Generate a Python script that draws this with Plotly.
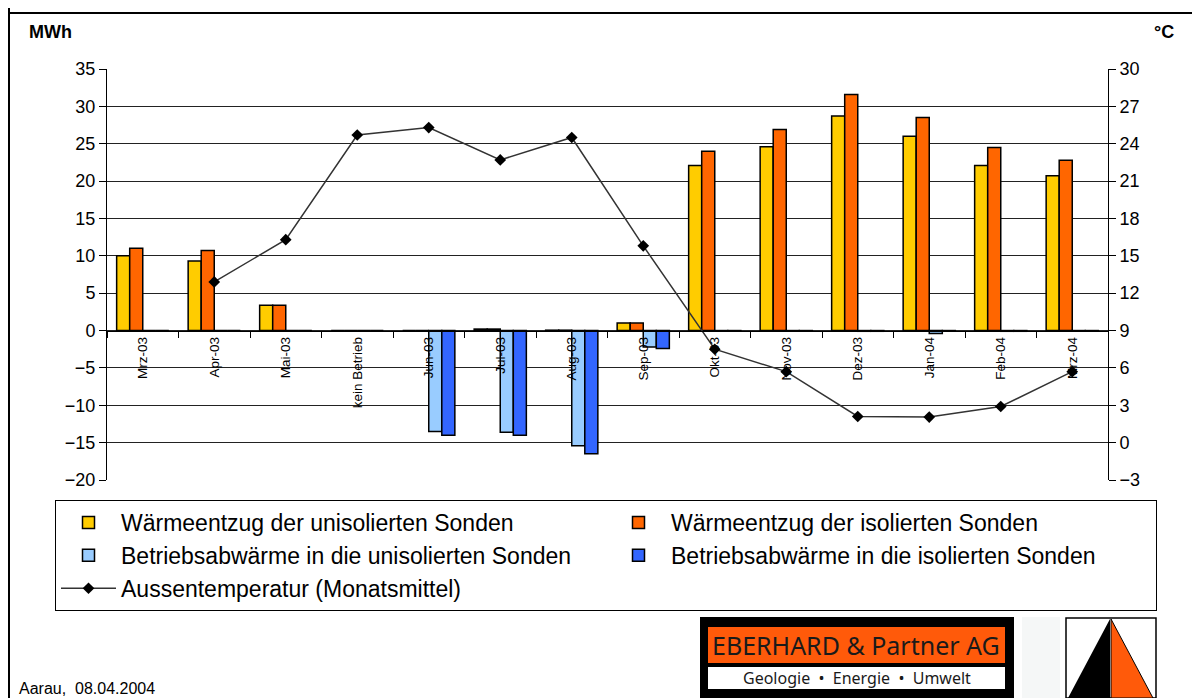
import plotly.graph_objects as go

categories = ["Mrz-03", "Apr-03", "Mai-03", "kein Betrieb", "Jun-03", "Jul-03", "Aug-03",
              "Sep-03", "Okt-03", "Nov-03", "Dez-03", "Jan-04", "Feb-04", "Mrz-04"]
entzug_unisoliert = [10.0, 9.3, 3.4, 0, 0, 0.2, 0.05, 1.0, 22.1, 24.6, 28.7, 26.0, 22.1, 20.7]
entzug_isoliert = [11.0, 10.7, 3.4, 0, 0, 0.2, 0.05, 1.0, 24.0, 26.9, 31.6, 28.5, 24.5, 22.8]
abwaerme_unisoliert = [0, 0, 0, 0, -13.5, -13.6, -15.4, -2.2, -0.05, -0.05, -0.1, -0.4, -0.1, -0.05]
abwaerme_isoliert = [0, 0, 0, 0, -14.0, -14.0, -16.5, -2.4, -0.05, -0.05, -0.1, -0.05, -0.1, -0.05]
temperatur = [None, 12.9, 16.3, 24.7, 25.3, 22.7, 24.5, 15.8, 7.5, 5.7, 2.1, 2.05, 2.9, 5.7]

left_ticks = list(range(-20, 40, 5))
right_ticks = list(range(-3, 33, 3))

names = ["Wärmeentzug der unisolierten Sonden", "Wärmeentzug der isolierten Sonden",
         "Betriebsabwärme in die unisolierten Sonden", "Betriebsabwärme in die isolierten Sonden"]
colors = ["#FFCC00", "#FF6600", "#99CCFF", "#3366FF"]
series = [entzug_unisoliert, entzug_isoliert, abwaerme_unisoliert, abwaerme_isoliert]

# page has an 8px body margin: figure pixel = page pixel - 8
O = 8
W, H = 1200 - O, 698 - O
L, R, T, B = 107 - O, 92, 69 - O, 218
PW, PH = W - L - R, H - T - B

def px(x):
    return (x - O - L) / PW

def py(y):
    return (H - B - (y - O)) / PH

FONT = "Liberation Sans, Arial, sans-serif"

fig = go.Figure()
for n, c, s in zip(names, colors, series):
    fig.add_trace(go.Bar(x=categories, y=s, name=n, marker=dict(color=c, line=dict(color="black", width=1.5)),
                         yaxis="y"))
fig.add_trace(go.Scatter(x=categories, y=temperatur, name="Aussentemperatur (Monatsmittel)", yaxis="y2",
                         mode="lines+markers", line=dict(color="#333333", width=1.5),
                         marker=dict(symbol="diamond", size=9, color="black")))

ymin, ymax = left_ticks[0], left_ticks[-1]
zero_pos = (0 - ymin) / (ymax - ymin)

shapes = []
# outer frame
shapes.append(dict(type="line", xref="paper", yref="paper", x0=px(9), x1=px(9), y0=py(8), y1=py(698),
                   line=dict(color="black", width=2)))
shapes.append(dict(type="line", xref="paper", yref="paper", x0=px(9), x1=px(1200), y0=py(13), y1=py(13),
                   line=dict(color="black", width=2)))
shapes.append(dict(type="line", xref="paper", yref="paper", x0=px(1198), x1=px(1198), y0=py(8), y1=py(698),
                   line=dict(color="black", width=1)))
# logo 1
shapes.append(dict(type="rect", xref="paper", yref="paper", x0=px(700), x1=px(1014), y0=py(617), y1=py(698),
                   fillcolor="black", line=dict(width=0)))
shapes.append(dict(type="rect", xref="paper", yref="paper", x0=px(708), x1=px(1005), y0=py(627), y1=py(663),
                   fillcolor="#FF5A0A", line=dict(width=0)))
shapes.append(dict(type="rect", xref="paper", yref="paper", x0=px(708), x1=px(1005), y0=py(667), y1=py(689),
                   fillcolor="white", line=dict(width=0)))
# faint area
shapes.append(dict(type="rect", xref="paper", yref="paper", x0=px(1022), x1=px(1060), y0=py(617), y1=py(698),
                   fillcolor="#F5F7F7", line=dict(width=0)))
# logo 2
shapes.append(dict(type="rect", xref="paper", yref="paper", x0=px(1066), x1=px(1156), y0=py(618), y1=py(698),
                   fillcolor="white", line=dict(color="black", width=1.5)))
def path(pts):
    return "M " + " L ".join(f"{px(a)},{py(b)}" for a, b in pts) + " Z"
shapes.append(dict(type="path", xref="paper", yref="paper", path=path([(1110, 619), (1068, 698), (1110, 698)]),
                   fillcolor="black", line=dict(width=0)))
shapes.append(dict(type="path", xref="paper", yref="paper", path=path([(1111, 619), (1111, 698), (1153, 698)]),
                   fillcolor="#FF5A0A", line=dict(color="black", width=1)))

annotations = [
    dict(text="<b>MWh</b>", x=px(27), y=py(32), xref="paper", yref="paper", xanchor="left", yanchor="middle",
         showarrow=False, font=dict(family=FONT, size=18, color="black")),
    dict(text="<b>°C</b>", x=px(1176), y=py(32), xref="paper", yref="paper", xanchor="right", yanchor="middle",
         showarrow=False, font=dict(family=FONT, size=18, color="black")),
    dict(text="Aarau,\u00a0 08.04.2004", x=px(17), y=py(688), xref="paper", yref="paper", xanchor="left",
         yanchor="middle", showarrow=False, font=dict(family=FONT, size=16, color="black")),
    dict(text="EBERHARD & Partner AG", x=px(856), y=py(645), xref="paper", yref="paper", xanchor="center",
         yanchor="middle", showarrow=False, font=dict(family="Noto Sans", size=25, color="#1a1a1a")),
    dict(text="Geologie  •  Energie  •  Umwelt", x=px(857), y=py(678), xref="paper", yref="paper",
         xanchor="center", yanchor="middle", showarrow=False,
         font=dict(family="Noto Sans", size=16, color="#1a1a1a")),
]

fig.update_layout(
    width=W, height=H,
    margin=dict(l=L, r=R, t=T, b=B, autoexpand=False),
    paper_bgcolor="white", plot_bgcolor="white",
    barmode="group", bargap=0.27, bargroupgap=0,
    font=dict(family=FONT, color="black"),
    xaxis=dict(type="category", anchor="free", position=zero_pos, showline=True, linecolor="black",
               linewidth=1, ticks="outside", tickson="boundaries", ticklen=6, tickcolor="black",
               tickangle=-90, tickfont=dict(size=13.5, family=FONT), showgrid=False, range=[-0.5, 13.5]),
    yaxis=dict(range=[ymin, ymax], tickvals=left_ticks, showline=True, linecolor="black", linewidth=1,
               ticks="outside", ticklen=7, tickcolor="black", showgrid=True, gridcolor="#222222",
               gridwidth=1, zeroline=False, tickfont=dict(size=18, family=FONT)),
    yaxis2=dict(range=[right_ticks[0], right_ticks[-1]], tickvals=right_ticks, overlaying="y", side="right",
                showline=True, linecolor="black", linewidth=1, ticks="outside", ticklen=7,
                tickcolor="black", showgrid=False, zeroline=False, tickfont=dict(size=18, family=FONT)),
    legend=dict(orientation="h", x=px(55), y=py(500), xanchor="left", yanchor="top",
                entrywidth=480, entrywidthmode="pixels", bordercolor="black", borderwidth=1,
                bgcolor="white", font=dict(size=23, family=FONT), traceorder="normal", itemwidth=55),
    shapes=shapes, annotations=annotations,
)

fig.write_html("out.html")
